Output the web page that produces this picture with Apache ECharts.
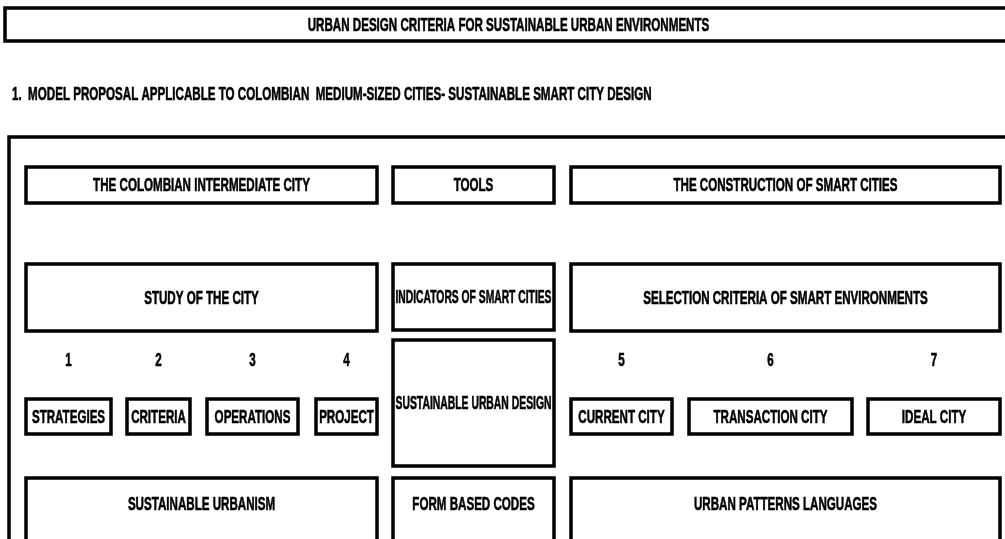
<!DOCTYPE html>
<html>
<head>
<meta charset="utf-8">
<title>Urban design criteria</title>
<script src="https://cdn.jsdelivr.net/npm/echarts@6/dist/echarts.min.js"></script>
<style>
  html, body { margin: 0; padding: 0; background: #fff; }
  #chart { width: 1005px; height: 539px; }
</style>
</head>
<body>
<div id="chart"></div>
<script>
// diagram boxes: [x0, y0, x1, y1, label, labelY]
var headerBox = [[5, 8, 1012, 41, 'URBAN DESIGN CRITERIA FOR SUSTAINABLE URBAN ENVIRONMENTS']];
var frameBox = [[9, 137, 1012, 550, '']];
var rowOne = [
    [26, 167, 377, 203, 'THE COLOMBIAN INTERMEDIATE CITY'],
    [393, 167, 554, 203, 'TOOLS'],
    [571, 167, 1000, 203, 'THE CONSTRUCTION OF SMART CITIES']
];
var rowTwo = [
    [26, 264, 377, 331, 'STUDY OF THE CITY'],
    [393, 264, 554, 330, 'INDICATORS OF SMART CITIES'],
    [571, 264, 1000, 331, 'SELECTION CRITERIA OF SMART ENVIRONMENTS']
];
var middleBox = [[393, 340, 554, 466, 'SUSTAINABLE URBAN DESIGN']];
var smallBoxes = [
    [26, 399, 111, 434, 'STRATEGIES'],
    [127, 399, 190, 434, 'CRITERIA'],
    [207, 399, 298, 434, 'OPERATIONS'],
    [316, 399, 377, 434, 'PROJECT'],
    [571, 399, 672, 434, 'CURRENT CITY'],
    [689, 399, 852, 434, 'TRANSACTION CITY'],
    [868, 399, 1000, 434, 'IDEAL CITY']
];
var stepNumbers = ['1', '2', '3', '4', '5', '6', '7'];
var stepY = 360;
var bottomRow = [
    [26, 478, 377, 560, 'SUSTAINABLE URBANISM', 504],
    [393, 478, 554, 560, 'FORM BASED CODES', 504],
    [571, 478, 1000, 560, 'URBAN PATTERNS LANGUAGES', 504]
];
var subtitle = '1.  MODEL PROPOSAL APPLICABLE TO COLOMBIAN  MEDIUM-SIZED CITIES- SUSTAINABLE SMART CITY DESIGN';

var FONT_FAMILY = '"Liberation Sans Narrow", "Liberation Sans", Arial, sans-serif';
var FONT_SIZE = 19;
var CONDENSE = 0.61;

var measureCtx = document.createElement('canvas').getContext('2d');
function textWidth(t) {
    measureCtx.font = 'bold ' + FONT_SIZE + 'px ' + FONT_FAMILY;
    return measureCtx.measureText(t).width;
}

function textEl(t, x, y, sx, align) {
    return {
        type: 'text',
        x: x,
        y: y + 1,
        scaleX: sx,
        style: {
            text: t,
            x: 0,
            y: 0,
            align: align || 'center',
            verticalAlign: 'middle',
            fontFamily: FONT_FAMILY,
            fontSize: FONT_SIZE,
            fontWeight: 'bold',
            fill: '#000',
            stroke: '#000',
            lineWidth: 0.6
        }
    };
}

var boxes = [].concat(headerBox, frameBox, rowOne, rowTwo, middleBox, smallBoxes, bottomRow);

// step numbers sit centred above the small boxes
var steps = smallBoxes.map(function (b, i) {
    return [(b[0] + b[2]) / 2, stepY, stepNumbers[i]];
});

var chart = echarts.init(document.getElementById('chart'));

var option = {
    animation: false,
    grid: { left: 0, right: 0, top: 0, bottom: 0 },
    xAxis: { type: 'value', min: 0, max: 1005, show: false },
    yAxis: { type: 'value', min: 0, max: 539, inverse: true, show: false },
    series: [
        {
            type: 'custom',
            clip: false,
            data: boxes,
            renderItem: function (params, api) {
                var b = boxes[params.dataIndex];
                var p0 = api.coord([b[0], b[1]]);
                var p1 = api.coord([b[2], b[3]]);
                var w = p1[0] - p0[0];
                var h = p1[1] - p0[1];
                var children = [{
                    type: 'rect',
                    shape: { x: p0[0], y: p0[1], width: w, height: h },
                    style: { fill: 'none', stroke: '#000', lineWidth: 3.5, lineJoin: 'miter' }
                }];
                if (b[4]) {
                    var ty = b[5] != null ? api.coord([0, b[5]])[1] : p0[1] + h / 2;
                    var sx = CONDENSE;
                    var tw = textWidth(b[4]);
                    if (tw * sx > w - 5) sx = (w - 5) / tw;
                    children.push(textEl(b[4], p0[0] + w / 2, ty, sx));
                }
                return { type: 'group', children: children };
            }
        },
        {
            type: 'custom',
            clip: false,
            data: steps,
            renderItem: function (params, api) {
                var p = api.coord([api.value(0), api.value(1)]);
                return textEl(steps[params.dataIndex][2], p[0], p[1], CONDENSE);
            }
        },
        {
            type: 'custom',
            clip: false,
            data: [[12, 94]],
            renderItem: function (params, api) {
                var p = api.coord([api.value(0), api.value(1)]);
                return textEl(subtitle, p[0], p[1], CONDENSE, 'left');
            }
        }
    ]
};

chart.setOption(option);
</script>
</body>
</html>
